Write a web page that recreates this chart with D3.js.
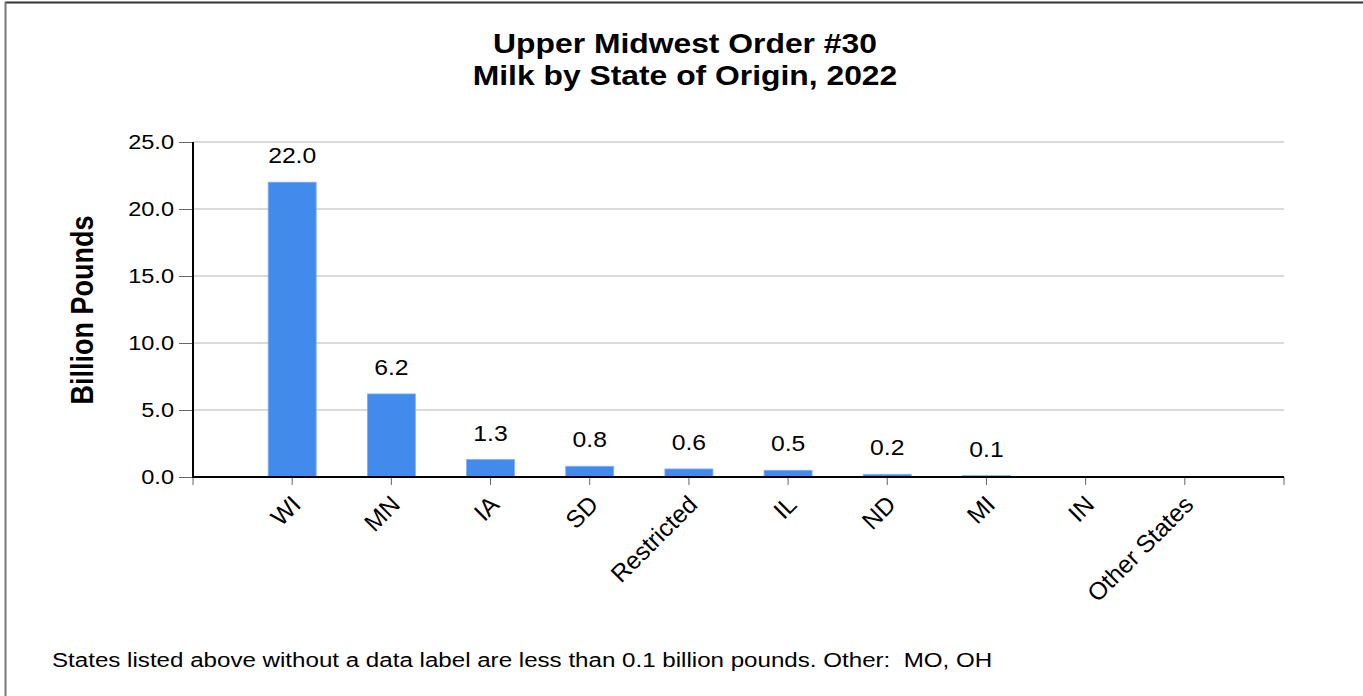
<!DOCTYPE html>
<html>
<head>
<meta charset="utf-8">
<script src="https://cdn.jsdelivr.net/npm/d3@7"></script>
<style>
  html, body { margin: 0; padding: 0; background: #fff; }
  svg { display: block; font-family: "Liberation Sans", Arial, sans-serif; }
  text { white-space: pre; }
</style>
</head>
<body>
<svg id="chart" width="1363" height="696"></svg>
<script>
const categories = ["WI", "MN", "IA", "SD", "Restricted", "IL", "ND", "MI", "IN", "Other States"];
const values = [22.0, 6.2, 1.3, 0.8, 0.6, 0.5, 0.2, 0.1, 0.03, 0.01];
const valueLabels = ["22.0", "6.2", "1.3", "0.8", "0.6", "0.5", "0.2", "0.1", "", ""];
const yTicks = [0, 5, 10, 15, 20, 25];
const titleLines = ["Upper Midwest Order #30", "Milk by State of Origin, 2022"];
const yAxisTitle = "Billion Pounds";
const footnote = "States listed above without a data label are less than 0.1 billion pounds. Other:  MO, OH";

(function () {
const svg = d3.select("#chart");
const W = 1363, H = 696;
const pLeft = 193, pRight = 1284, pTop = 142, pBottom = 477;
const sx = 1.15; // horizontal glyph stretch seen in the reference

// frame (top and left edges)
svg.append("line").attr("x1", 5).attr("x2", W).attr("y1", 2.5).attr("y2", 2.5)
  .attr("stroke", "#333").attr("stroke-width", 2);
svg.append("line").attr("x1", 5.5).attr("x2", 5.5).attr("y1", 2).attr("y2", H)
  .attr("stroke", "#777").attr("stroke-width", 2);

const x = d3.scalePoint().domain(categories).range([pLeft, pRight]).padding(1);
const y = d3.scaleLinear().domain([0, 25]).range([pBottom, pTop]);

// gridlines
svg.append("g").selectAll("line").data(yTicks.filter(d => d > 0)).join("line")
  .attr("x1", pLeft).attr("x2", pRight)
  .attr("y1", d => y(d)).attr("y2", d => y(d))
  .attr("stroke", "#d9d9d9").attr("stroke-width", 2);

// y axis ticks
const yAxis = d3.axisLeft(y).tickValues(yTicks).tickFormat("").tickSize(14);
const gy = svg.append("g").attr("transform", `translate(${pLeft},0)`).call(yAxis);
gy.select(".domain").remove();
gy.selectAll(".tick line").attr("stroke", "#666").attr("stroke-width", 1);

// y tick labels
const fmt = d3.format(".1f");
svg.append("g").selectAll("text").data(yTicks).join("text")
  .attr("transform", d => `translate(${pLeft - 19},${y(d)}) scale(${sx},1)`)
  .attr("text-anchor", "end")
  .attr("dy", "0.35em")
  .attr("font-size", 20.5).attr("fill", "#000")
  .text(d => fmt(d));

// bars
const bw = 48;
svg.append("g").selectAll("rect").data(values).join("rect")
  .attr("x", (d, i) => x(categories[i]) - bw / 2)
  .attr("width", bw)
  .attr("y", d => y(d))
  .attr("height", d => y(0) - y(d))
  .attr("fill", "#428bed")
  .attr("stroke", "#7fb0f2").attr("stroke-width", 0.8);

// value labels
svg.append("g").selectAll("text").data(values).join("text")
  .attr("transform", (d, i) => `translate(${x(categories[i])},${y(d) - 19}) scale(${sx},1)`)
  .attr("text-anchor", "middle")
  .attr("font-size", 21.5)
  .attr("fill", "#000")
  .text((d, i) => valueLabels[i]);

// x axis ticks
const xTickPositions = [pLeft, ...categories.map(c => x(c)), pRight];
svg.append("g").selectAll("line").data(xTickPositions).join("line")
  .attr("x1", d => d).attr("x2", d => d)
  .attr("y1", pBottom).attr("y2", pBottom + 8)
  .attr("stroke", "#666").attr("stroke-width", 1);

// axis lines
svg.append("line").attr("x1", pLeft).attr("x2", pLeft).attr("y1", pTop).attr("y2", pBottom + 1)
  .attr("stroke", "#000").attr("stroke-width", 2);
svg.append("line").attr("x1", pLeft - 1).attr("x2", pRight).attr("y1", pBottom).attr("y2", pBottom)
  .attr("stroke", "#000").attr("stroke-width", 2);

// x labels rotated
svg.append("g").selectAll("text").data(categories).join("text")
  .attr("transform", d => `translate(${x(d) + 4},${pBottom + 23}) rotate(-45)`)
  .attr("text-anchor", "end")
  .attr("font-size", 24.5)
  .attr("fill", "#000")
  .attr("dy", "0.35em")
  .text(d => d);

// y axis title
svg.append("text")
  .attr("transform", `translate(93,310) scale(${sx},1) rotate(-90)`)
  .attr("text-anchor", "middle")
  .attr("font-size", 27).attr("font-weight", "bold").attr("fill", "#000")
  .text(yAxisTitle);

// title
svg.append("g").selectAll("text").data(titleLines).join("text")
  .attr("transform", (d, i) => `translate(685,${53 + i * 31.5}) scale(${sx},1)`)
  .attr("text-anchor", "middle")
  .attr("font-size", 27.7).attr("font-weight", "bold").attr("fill", "#000")
  .text(d => d);

// footnote
svg.append("text")
  .attr("transform", `translate(52,667) scale(${sx},1)`)
  .attr("font-size", 21).attr("fill", "#000")
  .text(footnote);
})();
</script>
</body>
</html>
